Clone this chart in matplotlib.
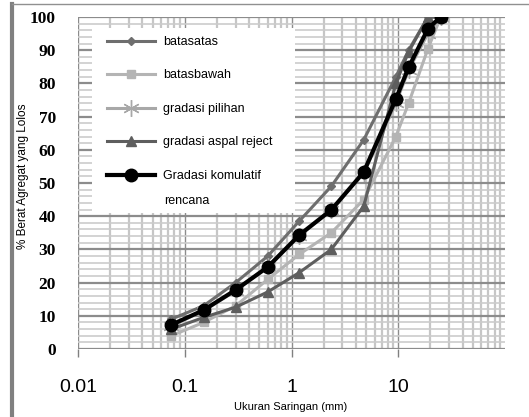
import matplotlib
matplotlib.use("Agg")
import matplotlib.pyplot as plt
from matplotlib.lines import Line2D
from matplotlib.patches import Rectangle
from matplotlib.ticker import FixedLocator, NullFormatter

sieve = [0.075, 0.15, 0.3, 0.6, 1.18, 2.36, 4.75, 9.5, 12.5, 19, 25]
batas_atas = [9, 13, 20, 28, 38.5, 49, 63, 82, 90, 100, 100]
batas_bawah = [4, 8, 13, 21, 28.5, 35, 45, 64, 74, 90.5, 100]
gradasi_pilihan = [7, 11.5, 17.5, 25, 34, 42, 53, 74, 84, 95, 100]
aspal_reject = [6, 9.5, 12.6, 17.2, 23, 30, 43, 80, 89.5, 100, 100]
komulatif = [7.3, 11.7, 17.8, 24.7, 34.3, 41.9, 53.3, 75.3, 84.8, 96.5, 100]

series_names = ["batasatas", "batasbawah", "gradasi pilihan",
                "gradasi aspal reject", "Gradasi komulatif"]
last_name_line2 = "rencana"
x_ticks = [0.01, 0.1, 1, 10]
x_ticklabels = ["0.01", "0.1", "1", "10"]
y_ticks = [0, 10, 20, 30, 40, 50, 60, 70, 80, 90, 100]

W, H = 529, 417
fig = plt.figure(figsize=(W / 100, H / 100), dpi=100)
fig.patch.set_facecolor("white")

AX_L, AX_R, AX_T, AX_B = 78, 505, 17, 349
ax = fig.add_axes([AX_L / W, 1 - AX_B / H, (AX_R - AX_L) / W, (AX_B - AX_T) / H])
ax.set_xscale("log")
ax.set_xlim(0.01, 100)
ax.set_ylim(0, 100)

# grid
ax.xaxis.set_major_locator(FixedLocator([0.01, 0.1, 1, 10, 100]))
minors = [m * d for d in [0.01, 0.1, 1, 10] for m in range(2, 10)]
ax.xaxis.set_minor_locator(FixedLocator(minors))
ax.xaxis.set_minor_formatter(NullFormatter())
ax.yaxis.set_major_locator(FixedLocator(y_ticks))
ax.yaxis.set_minor_locator(FixedLocator([v for v in range(0, 101, 2) if v % 10]))
ax.grid(which="major", axis="x", color="#8c8c8c", lw=1.0)
ax.grid(which="minor", axis="x", color="#c6c6c6", lw=1.6)
ax.grid(which="major", axis="y", color="#8c8c8c", lw=1.6)
ax.grid(which="minor", axis="y", color="#cccccc", lw=1.2)
ax.set_axisbelow(True)
for s in ax.spines.values():
    s.set_visible(False)

ax.set_xticks(x_ticks)
ax.set_xticklabels(x_ticklabels, fontsize=14, family="Liberation Sans")
ax.tick_params(axis="x", which="major", direction="out", length=6, width=1,
               color="#808080", pad=15.5)
ax.tick_params(axis="x", which="minor", length=0)
ax.tick_params(axis="y", which="both", length=0, pad=16)
ax.set_yticks(y_ticks)
ax.set_yticklabels([str(v) for v in y_ticks], fontsize=12.5,
                   family="Liberation Serif", fontweight="bold")

ax.plot(sieve, batas_atas, color="#6e6e6e", lw=2.2, marker="D", ms=4,
        label=series_names[0], zorder=3)
ax.plot(sieve, batas_bawah, color="#b4b4b4", lw=2.2, marker="s", ms=6,
        label=series_names[1], zorder=3)
ax.plot(sieve, gradasi_pilihan, color="#a8a8a8", lw=2.2, marker=(6, 2, 0),
        ms=12, mew=1, label=series_names[2], zorder=3)
ax.plot(sieve, aspal_reject, color="#5e5e5e", lw=2.2, marker="^", ms=7,
        label=series_names[3], zorder=3)
ax.plot(sieve, komulatif, color="black", lw=3, marker="o", ms=9,
        label=series_names[4], zorder=4)

# legend background box (pixel geometry from the reference)
def px2ax(px, py):
    return ((px - AX_L) / (AX_R - AX_L), (AX_B - py) / (AX_B - AX_T))

bx0, by0 = px2ax(92, 213)
bx1, by1 = px2ax(295, 28)
ax.add_patch(Rectangle((bx0, by0), bx1 - bx0, by1 - by0, transform=ax.transAxes,
                       facecolor="white", edgecolor="none", zorder=5))

lx, ly = px2ax(107, 36)
leg = ax.legend(loc="upper left", bbox_to_anchor=(lx, ly),
                frameon=False, fontsize=9, labelspacing=1.72, handlelength=3.85,
                handletextpad=0.65, borderpad=0, borderaxespad=0)
leg.set_zorder(6)
for t in leg.get_texts():
    t.set_family("Liberation Sans")

tx, ty = px2ax(164, 201)
ax.text(tx, ty, last_name_line2, transform=ax.transAxes, ha="left", va="center",
        fontsize=9, family="Liberation Sans", zorder=7)

fig.text(291 / W, 1 - 407 / H, "Ukuran Saringan (mm)", ha="center",
         va="center", fontsize=8, family="Liberation Sans")
fig.text(23 / W, 1 - 176 / H, "% Berat Agregat yang Lolos", ha="center",
         va="center", rotation=90, fontsize=8.5, family="Liberation Sans")

# outer frame
fig.add_artist(Line2D([12 / W, 12 / W], [0, 1 - 4 / H], transform=fig.transFigure,
                      color="#808080", lw=3))
fig.add_artist(Line2D([12 / W, 1], [1 - 4 / H, 1 - 4 / H], transform=fig.transFigure,
                      color="#909090", lw=1))

fig.savefig("out.png", dpi=100)
